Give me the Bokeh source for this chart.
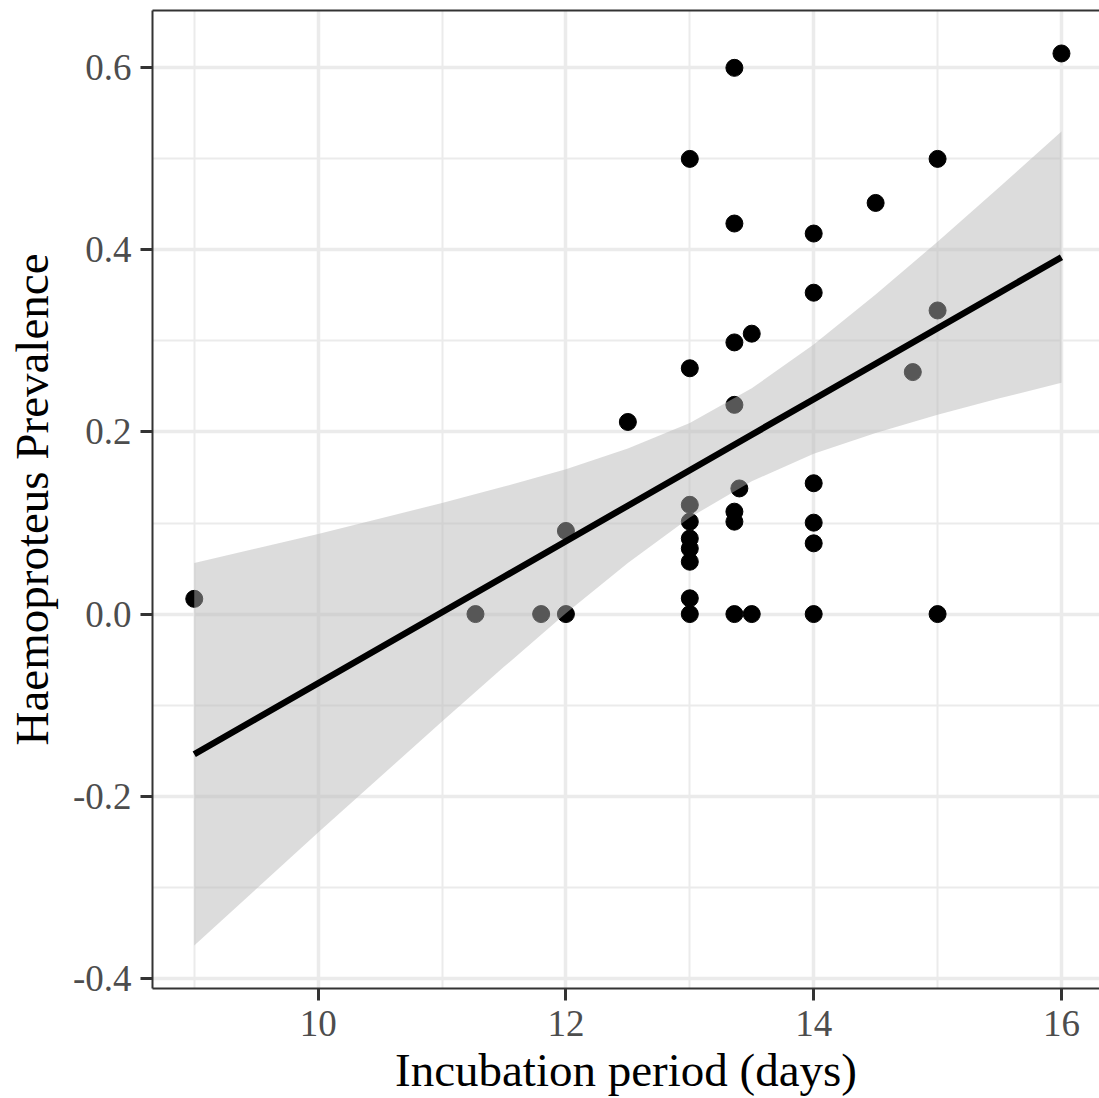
from bokeh.plotting import figure
from bokeh.models import Range1d, FixedTicker, LinearAxis, ColumnDataSource
from bokeh.embed import file_html
from bokeh.resources import INLINE

# ---- data ----
incubation_days = [9.0, 11.27, 11.8, 12.0, 12.0, 12.5,
                   13.0, 13.0, 13.0, 13.0, 13.0, 13.0, 13.0, 13.0, 13.0,
                   13.36, 13.36, 13.36, 13.36, 13.36, 13.36, 13.36,
                   13.4, 13.5, 13.5,
                   14.0, 14.0, 14.0, 14.0, 14.0, 14.0,
                   14.5, 14.8, 15.0, 15.0, 15.0, 16.0]
prevalence = [0.0167, 0.0, 0.0, 0.0, 0.0913, 0.211,
              0.5, 0.27, 0.12, 0.1015, 0.083, 0.072, 0.0575, 0.0173, 0.0,
              0.6, 0.429, 0.2984, 0.2298, 0.1125, 0.1015, 0.0,
              0.138, 0.308, 0.0,
              0.418, 0.353, 0.1437, 0.1004, 0.0777, 0.0,
              0.4516, 0.2658, 0.5, 0.3335, 0.0, 0.6158]

# linear-model smooth (geom_smooth, method = "lm")
smooth_x = [9.0, 9.5, 10.0, 10.5, 11.0, 11.5, 12.0, 12.5, 13.0, 13.5, 14.0, 14.5, 15.0, 15.5, 16.0]
smooth_fit = [-0.154, -0.115, -0.076, -0.037, 0.002, 0.041, 0.080, 0.119, 0.158, 0.197,
              0.236, 0.275, 0.314, 0.353, 0.392]
smooth_lower = [-0.364, -0.302, -0.240, -0.179, -0.118, -0.058, 0.001, 0.056, 0.106, 0.146,
                0.176, 0.199, 0.219, 0.237, 0.254]
smooth_upper = [0.056, 0.072, 0.088, 0.105, 0.122, 0.140, 0.159, 0.182, 0.210, 0.248,
                0.296, 0.351, 0.409, 0.469, 0.530]

x_ticks = [10, 12, 14, 16]
x_minor = [9, 11, 13, 15]
y_ticks = [-0.4, -0.2, 0.0, 0.2, 0.4, 0.6]
y_minor = [-0.3, -0.1, 0.1, 0.3, 0.5]
y_tick_labels = ["-0.4", "-0.2", "0.0", "0.2", "0.4", "0.6"]

band = ColumnDataSource(dict(x=smooth_x, fit=smooth_fit, lo=smooth_lower, hi=smooth_upper))
pts = ColumnDataSource(dict(x=incubation_days, y=prevalence))

FONT = "Liberation Serif"

p = figure(width=1099, height=1098, output_backend="svg", toolbar_location=None,
           x_range=Range1d(8.663, 16.307), y_range=Range1d(-0.4113, 0.663),
           min_border_left=152, min_border_right=0, min_border_top=10, min_border_bottom=110,
           x_axis_label="Incubation period (days)", y_axis_label="Haemoproteus Prevalence")
p.outline_line_color = None
p.background_fill_color = "white"
p.border_fill_color = "white"

p.scatter("x", "y", source=pts, size=17, color="black")
p.varea(x="x", y1="lo", y2="hi", source=band, fill_color="#B5B5B5", fill_alpha=0.48)
p.line("x", "fit", source=band, line_color="black", line_width=6.5)

p.xaxis.ticker = FixedTicker(ticks=x_ticks, minor_ticks=x_minor)
p.yaxis.ticker = FixedTicker(ticks=y_ticks, minor_ticks=y_minor)
p.yaxis.major_label_overrides = {v: lab for v, lab in zip(y_ticks, y_tick_labels)}

for ax in (p.xaxis[0], p.yaxis[0]):
    ax.axis_line_color = "#333333"
    ax.axis_line_width = 2
    ax.major_tick_line_color = "#333333"
    ax.major_tick_line_width = 3
    ax.major_tick_out = 12
    ax.major_tick_in = 0
    ax.minor_tick_line_color = None
    ax.major_label_text_font = FONT
    ax.major_label_text_font_size = "37px"
    ax.major_label_text_color = "#4D4D4D"
    ax.axis_label_text_font = FONT
    ax.axis_label_text_font_size = "47px"
    ax.axis_label_text_font_style = "normal"
    ax.axis_label_text_color = "black"

p.xaxis[0].major_label_standoff = 10
p.xaxis[0].axis_label_standoff = 5
p.yaxis[0].major_label_standoff = 9
p.yaxis[0].axis_label_standoff = 12

top = LinearAxis(ticker=FixedTicker(ticks=[]), axis_line_color="#333333", axis_line_width=2,
                 major_tick_line_color=None, minor_tick_line_color=None,
                 major_label_text_font_size="0px", major_label_standoff=0)
p.add_layout(top, "above")

for g in (p.xgrid[0], p.ygrid[0]):
    g.grid_line_color = "#EBEBEB"
    g.grid_line_width = 3.5
    g.minor_grid_line_color = "#EBEBEB"
    g.minor_grid_line_width = 2

open("out.html", "w").write(file_html(p, INLINE))
